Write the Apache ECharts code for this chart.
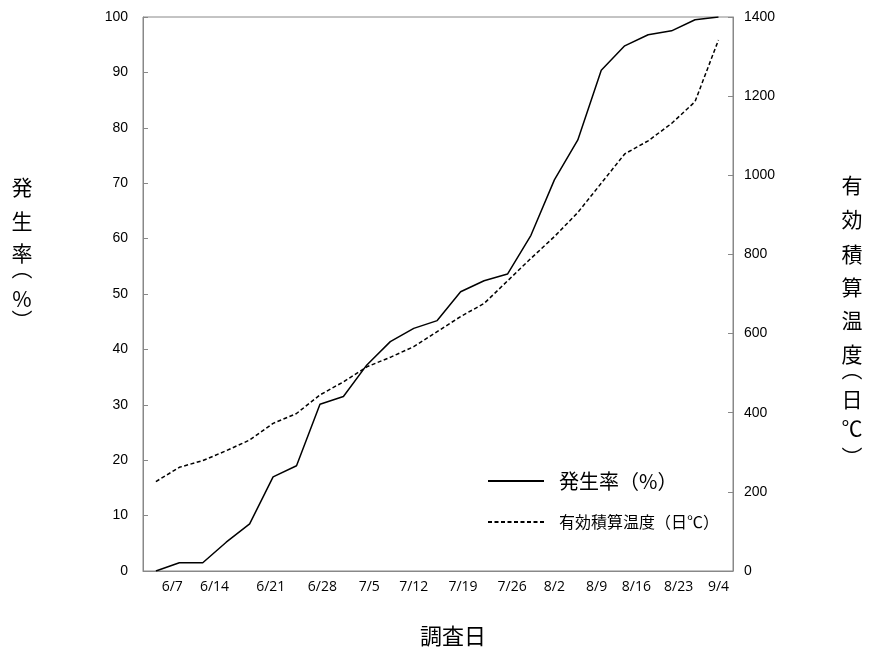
<!DOCTYPE html>
<html>
<head>
<meta charset="utf-8">
<script src="https://cdn.jsdelivr.net/npm/echarts@6/dist/echarts.min.js"></script>
<style>
  html, body { margin: 0; padding: 0; background: #fff; }
  #chart { width: 872px; height: 653px; }
</style>
</head>
<body>
<div id="chart"></div>
<script>
// Survey results: one value per survey, in order of survey.
const incidence = [0, 1.5, 1.5, 5.2, 8.5, 17.0, 19.0, 30.1, 31.5, 37.2, 41.4, 43.8, 45.2,
                   50.4, 52.4, 53.6, 60.6, 70.6, 77.8, 90.4, 94.8, 96.8, 97.5, 99.5, 100];
const degreeDays = [226, 262, 279, 304, 331, 373, 398, 445, 478, 516, 540, 567, 605,
                    643, 676, 733, 790, 845, 906, 980, 1054, 1087, 1131, 1186, 1342];

// Date labels on the survey axis, placed at survey-index positions.
const dateLabels = ['6/7', '6/14', '6/21', '6/28', '7/5', '7/12', '7/19', '7/26',
                    '8/2', '8/9', '8/16', '8/23', '9/4'];
const dateLabelAt = [0.7, 2.5, 4.9, 7.1, 9.1, 11.0, 13.1, 15.2, 17.0, 18.8, 20.5, 22.3, 24.0];

const incidenceTicks = { min: 0, max: 100, interval: 10 };
const degreeDayTicks = { min: 0, max: 1400, interval: 200 };

const seriesNames = ['発生率（%）', '有効積算温度（日℃）'];

const AXIS_GRAY = '#888';
const TEXT = '#000';
const CJK = '"Noto Sans CJK JP", sans-serif';
const NUM = '"Liberation Sans", Arial, sans-serif';

function dateLabelFor(v) {
  let best = 0;
  for (let i = 1; i < dateLabelAt.length; i++) {
    if (Math.abs(dateLabelAt[i] - v) < Math.abs(dateLabelAt[best] - v)) best = i;
  }
  return dateLabels[best];
}

// Vertical axis title: one glyph per row, rows given as [glyph, centre y].
function verticalTitle(x, rows, size) {
  return {
    type: 'group',
    children: rows.map(([ch, y]) => ({
      type: 'text',
      x: x, y: y,
      style: {
        text: ch, fontSize: size, fontFamily: CJK, fill: TEXT,
        align: 'center', verticalAlign: 'middle'
      }
    }))
  };
}

const chart = echarts.init(document.getElementById('chart'), null, { renderer: 'canvas' });

const valueAxisCommon = {
  type: 'value',
  axisLine: { show: true, onZero: false, lineStyle: { color: AXIS_GRAY, width: 1 } },
  axisTick: { show: true, inside: true, length: 5, lineStyle: { color: AXIS_GRAY } },
  splitLine: { show: false },
  axisLabel: { color: TEXT, fontSize: 14, fontFamily: NUM, formatter: v => String(v) }
};

chart.setOption({
  animation: false,
  backgroundColor: '#fff',
  grid: {
    left: 143, right: 139, top: 17, bottom: 82,
    show: true, borderColor: AXIS_GRAY, borderWidth: 1, backgroundColor: 'transparent'
  },
  legend: {
    orient: 'vertical',
    left: 482,
    top: 466,
    itemWidth: 56,
    itemHeight: 14,
    itemGap: 23,
    data: seriesNames,
    itemStyle: { opacity: 0 },
    formatter: name => (name === seriesNames[0] ? '{a|' + name + '}' : '{b|' + name + '}'),
    textStyle: {
      color: TEXT,
      fontFamily: CJK,
      rich: {
        a: { fontSize: 20, fontFamily: CJK, color: TEXT, padding: [0, 0, 0, 10] },
        b: { fontSize: 16, fontFamily: CJK, color: TEXT, padding: [0, 0, 0, 10] }
      }
    }
  },
  xAxis: {
    type: 'value',
    min: -0.55,
    max: 24.62,
    axisLine: { show: true, onZero: false, lineStyle: { color: AXIS_GRAY, width: 1 } },
    axisTick: { show: false },
    splitLine: { show: false },
    axisLabel: {
      customValues: dateLabelAt,
      formatter: v => dateLabelFor(v),
      color: TEXT,
      fontSize: 14,
      fontFamily: '"Open Sans", sans-serif',
      margin: 9
    }
  },
  yAxis: [
    Object.assign({}, valueAxisCommon, incidenceTicks, {
      position: 'left',
      axisLabel: Object.assign({}, valueAxisCommon.axisLabel, { margin: 15 })
    }),
    Object.assign({}, valueAxisCommon, degreeDayTicks, {
      position: 'right',
      axisLabel: Object.assign({}, valueAxisCommon.axisLabel, { margin: 11 })
    })
  ],
  series: [
    {
      name: seriesNames[0],
      type: 'line',
      yAxisIndex: 0,
      symbol: 'none',
      lineStyle: { color: '#000', width: 1.5, type: 'solid' },
      itemStyle: { color: '#000' },
      data: incidence.map((v, i) => [i, v])
    },
    {
      name: seriesNames[1],
      type: 'line',
      yAxisIndex: 1,
      symbol: 'none',
      lineStyle: { color: '#000', width: 1.5, type: [4, 2.5] },
      itemStyle: { color: '#000' },
      data: degreeDays.map((v, i) => [i, v])
    }
  ],
  graphic: [
    verticalTitle(22, [['発', 187], ['生', 221], ['率', 253], ['︵', 268],
                       ['%', 299], ['︶', 320]], 21),
    verticalTitle(852, [['有', 185], ['効', 219], ['積', 254], ['算', 287], ['温', 320],
                        ['度', 354], ['︵', 369], ['日', 399], ['℃', 428], ['︶', 457]], 21),
    {
      type: 'text',
      left: 420, top: 625,
      style: { text: '調査日', fontSize: 22, fontFamily: CJK, fill: TEXT }
    }
  ]
});
</script>
</body>
</html>
